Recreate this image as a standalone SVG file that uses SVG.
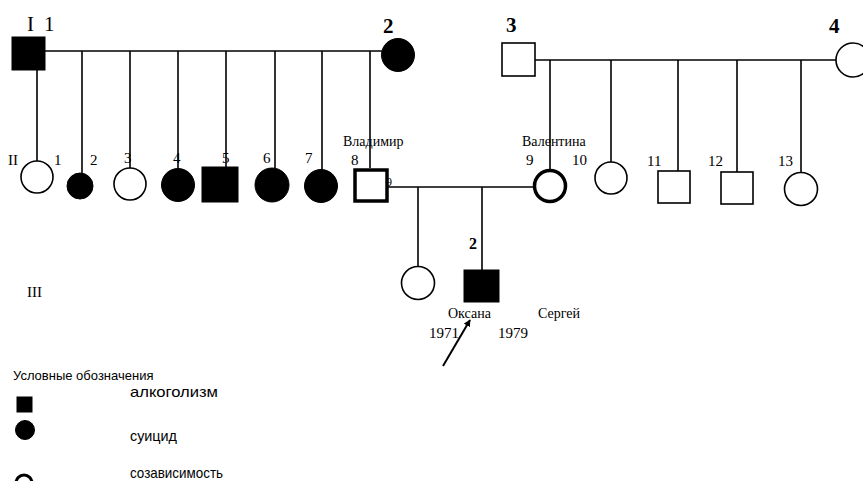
<svg xmlns="http://www.w3.org/2000/svg" width="863" height="481" viewBox="0 0 863 481">
<defs>
<style>
.ln{stroke:#000;stroke-width:1.6;fill:none}
.open{fill:#fff;stroke:#000;stroke-width:1.6}
.fill{fill:#000;stroke:#000;stroke-width:1}
.thick{fill:#fff;stroke:#000;stroke-width:3.5}
.num{font-family:"Liberation Serif",serif;font-size:15px;fill:#000}
.sm{font-family:"Liberation Serif",serif;font-size:12px;fill:#000}
.gen{font-family:"Liberation Serif",serif;font-size:21px;fill:#000}
.big{font-family:"Liberation Serif",serif;font-size:21px;font-weight:bold;fill:#000}
.mid{font-family:"Liberation Serif",serif;font-size:16px;font-weight:bold;fill:#000}
.name{font-family:"Liberation Serif",serif;font-size:14px;fill:#000}
.leg{font-family:"Liberation Sans",sans-serif;font-size:13px;fill:#000}
.legt{font-family:"Liberation Sans",sans-serif;font-size:15px;fill:#000}
</style>
<marker id="ah" viewBox="0 0 10 10" refX="9" refY="5" markerWidth="7" markerHeight="7" orient="auto" markerUnits="userSpaceOnUse">
<path d="M0,0 L10,5 L0,10 z" fill="#000"/>
</marker>
</defs>
<rect width="863" height="481" fill="#fff"/>

<g id="connectors">
<line class="ln" x1="45" y1="51" x2="382" y2="51"/>
<line class="ln" x1="37" y1="70" x2="37" y2="162"/>
<line class="ln" x1="82" y1="51" x2="82" y2="173"/>
<line class="ln" x1="130" y1="51" x2="130" y2="168"/>
<line class="ln" x1="178" y1="51" x2="178" y2="168"/>
<line class="ln" x1="226" y1="51" x2="226" y2="167"/>
<line class="ln" x1="275" y1="51" x2="275" y2="168"/>
<line class="ln" x1="322" y1="51" x2="322" y2="170"/>
<line class="ln" x1="370" y1="51" x2="370" y2="168"/>
<line class="ln" x1="535" y1="60" x2="836" y2="60"/>
<line class="ln" x1="550" y1="60" x2="550" y2="169"/>
<line class="ln" x1="611" y1="60" x2="611" y2="162"/>
<line class="ln" x1="678" y1="60" x2="678" y2="171"/>
<line class="ln" x1="737" y1="60" x2="737" y2="172"/>
<line class="ln" x1="801" y1="60" x2="801" y2="173"/>
<line class="ln" x1="388" y1="187" x2="533" y2="187"/>
<line class="ln" x1="418" y1="187" x2="418" y2="266"/>
<line class="ln" x1="482" y1="187" x2="482" y2="270"/>
<line x1="443" y1="366" x2="470" y2="320" stroke="#000" stroke-width="2" marker-end="url(#ah)"/>
</g>

<g id="gen-labels">
<text class="gen" x="27" y="31">I</text>
<text class="gen" x="44" y="31">1</text>
<text class="num" x="8" y="165">II</text>
<text class="num" x="27" y="297">III</text>
</g>

<g id="I-1"><rect class="fill" x="12" y="37" width="33" height="33"/></g>
<g id="I-2"><circle class="fill" cx="398" cy="55" r="16.5"/><text class="big" x="383" y="33">2</text></g>
<g id="I-3"><rect class="open" x="502" y="43" width="33" height="33"/><text class="big" x="506" y="32">3</text></g>
<g id="I-4"><circle class="open" cx="853" cy="60" r="17"/><text class="big" x="829" y="33">4</text></g>

<g id="II-1"><circle class="open" cx="37" cy="177" r="16"/><text class="num" x="54" y="165">1</text></g>
<g id="II-2"><circle class="fill" cx="80" cy="186" r="13"/><text class="num" x="90" y="165">2</text></g>
<g id="II-3"><circle class="open" cx="130" cy="184" r="16"/><text class="num" x="124" y="163">3</text></g>
<g id="II-4"><circle class="fill" cx="178" cy="185" r="16.5"/><text class="num" x="173" y="163">4</text></g>
<g id="II-5"><rect class="fill" x="202" y="167" width="36" height="35"/><text class="num" x="222" y="163">5</text></g>
<g id="II-6"><circle class="fill" cx="272" cy="185" r="17"/><text class="num" x="263" y="163">6</text></g>
<g id="II-7"><circle class="fill" cx="321" cy="186" r="16.5"/><text class="num" x="305" y="163">7</text></g>
<g id="II-8"><rect class="thick" x="355" y="170" width="32" height="31"/><text class="num" x="351" y="165">8</text><text class="name" x="343" y="146">Владимир</text><text class="sm" x="386" y="186">9</text></g>
<g id="II-9"><circle class="thick" cx="550" cy="186" r="15.5"/><text class="num" x="526" y="165">9</text><text class="name" x="522" y="146">Валентина</text></g>
<g id="II-10"><circle class="open" cx="611" cy="178" r="16"/><text class="num" x="572" y="165">10</text></g>
<g id="II-11"><rect class="open" x="658" y="171" width="32" height="32"/><text class="num" x="647" y="166">11</text></g>
<g id="II-12"><rect class="open" x="721" y="172" width="32" height="32"/><text class="num" x="708" y="166">12</text></g>
<g id="II-13"><circle class="open" cx="801" cy="189" r="16.5"/><text class="num" x="778" y="166">13</text></g>

<g id="III-1"><circle class="open" cx="418" cy="283" r="16.5"/><text class="name" x="448" y="318">Оксана</text><text class="num" x="429" y="338">1971</text></g>
<g id="III-2"><rect class="fill" x="464" y="270" width="35" height="32"/><text class="mid" x="469" y="249">2</text><text class="name" x="538" y="318">Сергей</text><text class="num" x="498" y="338">1979</text></g>

<g id="legend">
<text class="leg" x="13" y="380">Условные обозначения</text>
<rect class="fill" x="17" y="397" width="15" height="15"/>
<text class="legt" x="130" y="397" textLength="88" lengthAdjust="spacingAndGlyphs">алкоголизм</text>
<circle class="fill" cx="25" cy="430" r="9.5"/>
<text class="legt" x="130" y="441" textLength="47" lengthAdjust="spacingAndGlyphs">суицид</text>
<circle cx="24" cy="483" r="8" fill="#fff" stroke="#000" stroke-width="3"/>
<text class="legt" x="130" y="478" textLength="93" lengthAdjust="spacingAndGlyphs">созависимость</text>
</g>
</svg>
